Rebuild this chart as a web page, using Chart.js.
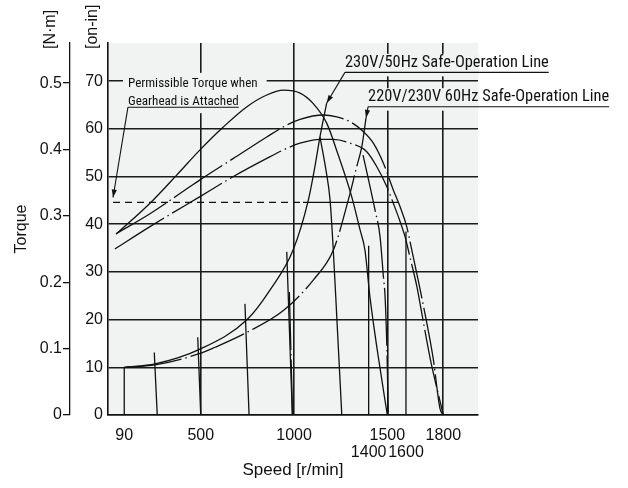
<!DOCTYPE html>
<html>
<head>
<meta charset="utf-8">
<script src="https://cdn.jsdelivr.net/npm/chart.js@4.4.1/dist/chart.umd.min.js"></script>
<style>
  html, body { margin: 0; padding: 0; background: #fff; }
  #wrap { width: 628px; height: 488px; }
</style>
</head>
<body>
<div id="wrap"><canvas id="torqueChart" width="628" height="488"></canvas></div>
<script>
// speed in r/min, torque in oz-in
const speedTicks = [90, 500, 1000, 1400, 1500, 1600, 1800];
const speedTicksLowRow = [1400, 1600];
const speedGrid = [500, 1000, 1500, 1800];
const ozTicks = [0, 10, 20, 30, 40, 50, 60, 70];
const nmTicks = [0, 0.1, 0.2, 0.3, 0.4, 0.5];

// full-voltage torque curves
const torque50Speed = [46, 228, 371, 496, 621, 746, 854, 943, 1032, 1103, 1175, 1237, 1309, 1354, 1380, 1407, 1450, 1500];
const torque50Oz = [37.9, 44.4, 50.3, 55.6, 60.4, 64.6, 67.1, 68.1, 67.5, 65.3, 61.2, 54.5, 45.8, 38.8, 34.6, 24.7, 12.6, 0];
const torque60aSpeed = [50, 228, 443, 496, 675, 854, 961, 1032, 1157, 1229, 1300, 1363, 1425, 1479, 1532, 1568, 1604, 1631, 1693, 1746, 1782, 1800];
const torque60aOz = [38.1, 42.2, 47.9, 49.3, 53.8, 58.3, 60.8, 62.0, 62.9, 62.5, 61.5, 59.7, 57.0, 52.8, 47.2, 43.7, 39.5, 34.6, 23.0, 11.8, 1.4, 0];
const torque60bSpeed = [40, 228, 496, 675, 854, 961, 1032, 1139, 1211, 1300, 1390, 1443, 1497, 1532, 1559, 1595, 1622, 1658, 1684, 1729, 1800];
const torque60bOz = [34.8, 39.5, 45.8, 50.0, 53.8, 55.9, 57.0, 57.8, 57.8, 57.0, 55.2, 52.1, 47.9, 44.4, 41.6, 37.4, 33.0, 27.0, 21.5, 12.0, 0];

// safe-operation lines
const safe50Speed = [90, 255, 496, 746, 871, 995, 1077, 1112, 1139, 1175];
const safe50Oz = [10, 10.7, 13.8, 19.9, 26.2, 34.6, 45.1, 52.1, 58.3, 65.4];
const safe60Speed = [90, 255, 496, 577, 746, 943, 1103, 1211, 1291, 1336, 1363, 1386];
const safe60Oz = [10, 10.5, 12.9, 14.2, 17.3, 21.9, 28.3, 34.6, 45.1, 52.1, 56.2, 62.3];

// speed-control lines (50Hz solid, 60Hz dash-dot)
const ctl50 = [
  { speed: [251, 267], oz: [13.1, 0] },
  { speed: [484, 500], oz: [16.3, 0] },
  { speed: [737, 759], oz: [23.3, 0] },
  { speed: [961, 991], oz: [34.2, 0] },
  { speed: [1139, 1171, 1193, 1209, 1230, 1256], oz: [58.3, 51.4, 45.1, 35.6, 19.9, 0] }
];
const ctl60 = [
  { speed: [975, 992], oz: [25.8, 0] },
  { speed: [1370, 1434, 1461, 1479, 1488, 1498, 1505], oz: [54.5, 43.0, 37.4, 29.0, 24.8, 13.6, 0] }
];
const startSpeed = [90, 90];
const startOz = [10, 0];
const mark1400Speed = [1400, 1400];
const mark1400Oz = [35.5, 0];
const mark1600Speed = [1600, 1600];
const mark1600Oz = [38.5, 0];

// permissible torque with gearhead
const permDashSpeed = [30, 1048];
const permSolidSpeed = [1048, 1559];
const permOz = [44.6, 44.6];

const plotColor = '#f1f3f3';
const ink = '#111';
const dashDot = [58, 4, 1.5, 4];

function pts(speed, oz) {
  return speed.map((s, i) => ({ x: s, y: oz[i] }));
}
function line(label, speed, oz, extra) {
  return Object.assign({
    label: label,
    data: pts(speed, oz),
    borderColor: ink,
    borderWidth: 1.3,
    pointRadius: 0,
    fill: false,
    tension: 0
  }, extra || {});
}
const smooth = { cubicInterpolationMode: 'monotone' };

const datasets = [
  line('230V 50Hz', torque50Speed, torque50Oz, smooth),
  line('230V 60Hz', torque60aSpeed, torque60aOz, Object.assign({ borderDash: dashDot }, smooth)),
  line('220V 60Hz', torque60bSpeed, torque60bOz, Object.assign({ borderDash: dashDot }, smooth)),
  line('Safe 50Hz', safe50Speed, safe50Oz, smooth),
  line('Safe 60Hz', safe60Speed, safe60Oz, Object.assign({ borderDash: dashDot }, smooth)),
  line('start', startSpeed, startOz),
  line('1400', mark1400Speed, mark1400Oz),
  line('1600', mark1600Speed, mark1600Oz),
  line('Permissible', permDashSpeed, permOz, { borderDash: [7, 5] }),
  line('Permissible2', permSolidSpeed, permOz)
];
ctl50.forEach((c, i) => datasets.push(line('ctl50-' + i, c.speed, c.oz, smooth)));
ctl60.forEach((c, i) => datasets.push(line('ctl60-' + i, c.speed, c.oz, Object.assign({ borderDash: dashDot }, smooth))));

const narrow = '"Liberation Sans Narrow", "Roboto Condensed", "DejaVu Sans Condensed", sans-serif';
const regular = '"Liberation Sans", Arial, sans-serif';

function arrow(ctx, x0, y0, x1, y1) {
  ctx.beginPath();
  ctx.moveTo(x0, y0);
  ctx.lineTo(x1, y1);
  ctx.stroke();
  const a = Math.atan2(y1 - y0, x1 - x0), len = 8, w = 2.6;
  ctx.beginPath();
  ctx.moveTo(x1, y1);
  ctx.lineTo(x1 - len * Math.cos(a) + w * Math.sin(a), y1 - len * Math.sin(a) - w * Math.cos(a));
  ctx.lineTo(x1 - len * Math.cos(a) - w * Math.sin(a), y1 - len * Math.sin(a) + w * Math.cos(a));
  ctx.closePath();
  ctx.fill();
}

// label anchors in data units (speed, torque)
const notes = [
  { text: ['Permissible Torque when', 'Gearhead is Attached'], size: 13.1, speed: 110, oz: 68.8, gap: 18.5,
    tip: [permDashSpeed[0], permOz[0] + 1], pad: [5, 9, 14, 6] },
  { text: ['230V/50Hz Safe-Operation Line'], size: 16.4, speed: 1273, oz: 73.0, gap: 0,
    tip: [safe50Speed[safe50Speed.length - 1], safe50Oz[safe50Oz.length - 1]], pad: [3, 3, 13, 4] },
  { text: ['220V/230V 60Hz Safe-Operation Line'], size: 16.4, speed: 1397, oz: 65.8, gap: 0,
    tip: [safe60Speed[safe60Speed.length - 1], safe60Oz[safe60Oz.length - 1]], pad: [3, 3, 13, 4] }
];

function noteBox(chart, n) {
  const { ctx, scales } = chart;
  ctx.font = n.size + 'px ' + narrow;
  const x = scales.x.getPixelForValue(n.speed);
  const y = scales.y.getPixelForValue(n.oz);
  const w = Math.max.apply(null, n.text.map(t => ctx.measureText(t).width));
  const last = y + n.gap * (n.text.length - 1);
  return { x, y, w, last, under: last + (n.text.length > 1 ? 1.8 : 5.5) };
}

const plotBackground = {
  id: 'plotBackground',
  beforeDraw(chart) {
    const { ctx, chartArea: a } = chart;
    ctx.save();
    ctx.fillStyle = '#fff';
    ctx.fillRect(0, 0, chart.width, chart.height);
    ctx.fillStyle = plotColor;
    ctx.fillRect(a.left, a.top, a.right - a.left, a.bottom - a.top);
    ctx.restore();
  },
  beforeDatasetsDraw(chart) {
    const { ctx, chartArea: a } = chart;
    ctx.save();
    ctx.beginPath();
    ctx.rect(a.left + 1, a.top, a.right - a.left, a.bottom - a.top);
    ctx.clip();
    ctx.fillStyle = plotColor;
    notes.forEach(n => {
      const b = noteBox(chart, n);
      ctx.fillRect(b.x - n.pad[0], b.y - n.pad[2], b.w + n.pad[0] + n.pad[1], b.under - b.y + n.pad[2] + n.pad[3]);
    });
    ctx.restore();
  },
  afterDatasetsDraw(chart) {
    const { ctx, scales } = chart;
    ctx.save();
    ctx.fillStyle = ink;
    ctx.strokeStyle = ink;
    ctx.lineWidth = 1.1;
    notes.forEach(n => {
      const b = noteBox(chart, n);
      ctx.font = n.size + 'px ' + narrow;
      ctx.textAlign = 'left';
      ctx.textBaseline = 'alphabetic';
      n.text.forEach((t, i) => ctx.fillText(t, b.x, b.y + n.gap * i));
      const lastW = ctx.measureText(n.text[n.text.length - 1]).width;
      ctx.beginPath();
      ctx.moveTo(b.x, b.under);
      ctx.lineTo(b.x + lastW, b.under);
      ctx.stroke();
      arrow(ctx, b.x, b.under, scales.x.getPixelForValue(n.tip[0]), scales.y.getPixelForValue(n.tip[1]));
    });
    // unit labels above the two torque axes
    ctx.font = '16px ' + regular;
    ctx.textAlign = 'left';
    ctx.textBaseline = 'middle';
    const units = [['[N·m]', scales.y2.right - 19], ['[on-in]', scales.y.right - 15]];
    units.forEach(u => {
      ctx.save();
      ctx.translate(u[1], chart.chartArea.top + 6);
      ctx.rotate(-Math.PI / 2);
      ctx.fillText(u[0], 0, 0);
      ctx.restore();
    });
    ctx.restore();
  }
};

new Chart(document.getElementById('torqueChart'), {
  type: 'line',
  data: { datasets: datasets },
  options: {
    responsive: false,
    animation: false,
    events: [],
    layout: { padding: { top: 43, right: 150, left: 0, bottom: 0 } },
    plugins: { legend: { display: false }, tooltip: { enabled: false } },
    scales: {
      x: {
        type: 'linear',
        min: 3,
        max: 1986,
        afterBuildTicks: s => { s.ticks = speedTicks.map(v => ({ value: v })); },
        afterFit: s => { s.height = 73; s.paddingLeft = 0; s.paddingRight = 0; },
        grid: {
          drawTicks: false,
          color: c => (c.tick && speedGrid.includes(c.tick.value)) ? '#1a1a1a' : 'rgba(0,0,0,0)',
          lineWidth: 1.6
        },
        border: { display: true, color: ink, width: 1.6 },
        ticks: {
          autoSkip: false,
          maxRotation: 0,
          padding: 12.6,
          color: ink,
          font: { family: regular, size: 16, lineHeight: 1.05 },
          callback: v => speedTicksLowRow.includes(v) ? ['', String(v)] : String(v)
        },
        title: {
          display: true,
          text: 'Speed [r/min]',
          color: ink,
          font: { family: regular, size: 17 },
          padding: { top: 0, bottom: 7 }
        }
      },
      y: {
        position: 'left',
        weight: 0,
        min: 0,
        max: 78,
        afterBuildTicks: s => { s.ticks = ozTicks.map(v => ({ value: v })); },
        afterFit: s => { s.width = 38; s.paddingTop = 0; s.paddingBottom = 0; },
        grid: { drawTicks: false, color: '#1a1a1a', lineWidth: 1.6 },
        border: { display: true, color: ink, width: 1.6 },
        ticks: { padding: 5, color: ink, font: { family: regular, size: 16 } }
      },
      y2: {
        position: 'left',
        weight: 1,
        min: 0,
        max: 0.5604,
        afterBuildTicks: s => { s.ticks = nmTicks.map(v => ({ value: v })); },
        afterFit: s => { s.width = 70; s.paddingTop = 0; s.paddingBottom = 0; },
        grid: { drawOnChartArea: false, drawTicks: true, tickLength: 7, color: ink, lineWidth: 1.3 },
        border: { display: true, color: ink, width: 1.3 },
        ticks: {
          padding: 1,
          color: ink,
          font: { family: regular, size: 16 },
          callback: v => v === 0 ? '0' : v.toFixed(1)
        },
        title: {
          display: true,
          text: 'Torque',
          color: ink,
          font: { family: regular, size: 16 },
          padding: { top: 12, bottom: 0 }
        }
      }
    }
  },
  plugins: [plotBackground]
});
</script>
</body>
</html>
